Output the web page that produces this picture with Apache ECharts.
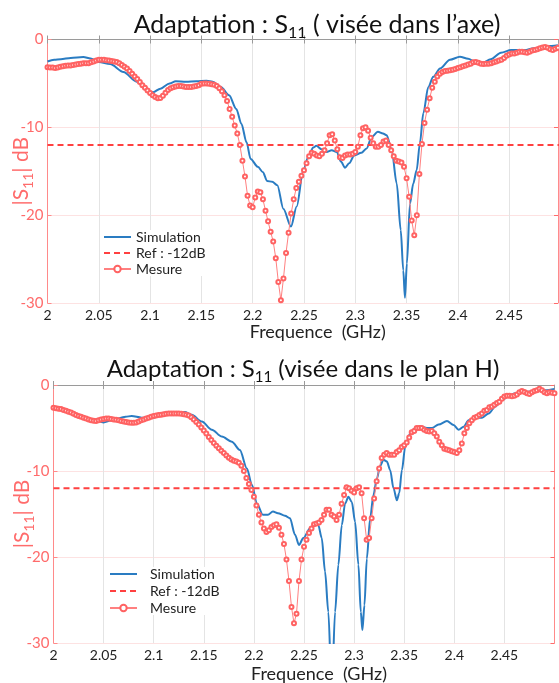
<!DOCTYPE html>
<html>
<head>
<meta charset="utf-8">
<script src="https://cdn.jsdelivr.net/npm/echarts@6/dist/echarts.min.js"></script>
<style>
  html, body { margin: 0; padding: 0; background: #fff; }
  #main { width: 559px; height: 683px; }
</style>
</head>
<body>
<div id="main"></div>
<script>
// measured curves are sampled every 2.5 MHz starting at 2 GHz
const freqStart = 2;
const freqStep = 0.0025;

// ---- top chart : visée dans l'axe ----
const measAxe = [
  -3.15, -3.2, -3.2, -3.25, -3.2, -3.1, -3.05, -3.0, -2.95, -2.95, -2.9, -2.85, -2.8, -2.75, -2.7, -2.7, -2.7, -2.6, -2.5, -2.4,
  -2.3, -2.3, -2.3, -2.35, -2.4, -2.45, -2.5, -2.55, -2.7, -2.9, -3.1, -3.3, -3.6, -3.9, -4.2, -4.5, -4.85, -5.2, -5.5, -5.8,
  -6.1, -6.35, -6.55, -6.7, -6.65, -6.4, -6.05, -5.75, -5.55, -5.45, -5.35, -5.3, -5.3, -5.35, -5.4, -5.4, -5.4, -5.35, -5.3, -5.2,
  -5.05, -5.0, -5.0, -5.05, -5.1, -5.15, -5.3, -5.55, -5.9, -6.35, -7.0, -7.9, -8.8, -9.8, -10.7, -12.0, -13.8, -15.6, -17.8, -18.9,
  -19.1, -18.0, -17.3, -17.4, -18.2, -19.5, -20.7, -21.9, -23.0, -24.9, -27.6, -29.7, -27.2, -24.3, -22.0, -19.8, -18.2, -16.9, -16.2, -15.5,
  -14.9, -14.1, -13.3, -12.9, -13.0, -13.2, -13.3, -13.0, -12.6, -11.8, -10.9, -10.8, -11.5, -12.5, -13.4, -13.5, -13.2, -13.1, -13.1, -13.0,
  -12.8, -12.2, -10.9, -10.1, -10.0, -10.4, -11.2, -11.8, -12.2, -12.2, -12.0, -11.6, -11.5, -12.0, -12.6, -13.3, -13.8, -13.9, -14.0, -14.5,
  -15.8, -17.9, -20.6, -22.3, -20.0, -15.3, -11.9, -9.5, -8.0, -6.7, -5.5, -4.8, -4.2, -3.9, -3.7, -3.6, -3.55, -3.5, -3.45, -3.35,
  -3.25, -3.15, -3.05, -2.95, -2.85, -2.75, -2.6, -2.55, -2.65, -2.75, -2.8, -2.75, -2.75, -2.7, -2.6, -2.5, -2.4, -2.3, -2.1, -1.85,
  -1.7, -1.6, -1.6, -1.5, -1.4, -1.4, -1.45, -1.5, -1.4, -1.25, -1.2, -1.1, -1.0, -0.9, -0.85, -0.95, -1.1, -1.2, -1.05, -0.95
];
const simAxe = [
  [2.0, -2.5], [2.0065, -2.3], [2.013, -2.25], [2.0226, -2.1], [2.035, -2.0], [2.042, -2.15], [2.05, -2.55],
  [2.061, -2.8], [2.074, -3.7], [2.087, -4.8], [2.097, -5.8], [2.103, -6.0], [2.11, -5.6], [2.119, -5.0],
  [2.125, -4.75], [2.135, -4.8], [2.145, -4.75], [2.155, -4.7], [2.161, -4.8], [2.169, -5.4], [2.177, -6.35],
  [2.184, -7.9], [2.189, -9.6], [2.194, -11.7], [2.198, -13.6], [2.205, -14.5], [2.21, -15.1], [2.214, -16.1],
  [2.219, -16.2], [2.224, -16.6], [2.23, -19.3], [2.2373, -21.3], [2.2429, -19.0], [2.2493, -14.9], [2.2545, -13.3],
  [2.259, -12.3], [2.262, -12.1], [2.267, -12.5], [2.272, -12.8], [2.277, -12.6], [2.282, -12.8], [2.286, -13.9],
  [2.29, -14.6], [2.294, -14.1], [2.299, -13.2], [2.306, -12.9], [2.311, -12.4], [2.316, -11.1], [2.322, -10.5],
  [2.327, -10.7], [2.3306, -10.9], [2.3355, -12.6], [2.3404, -16.4], [2.3443, -21.7], [2.3468, -26.3], [2.3484, -29.4],
  [2.3503, -25.5], [2.3533, -18.7], [2.3565, -16.4], [2.3598, -14.9], [2.363, -11.8], [2.3663, -8.4], [2.3712, -5.4],
  [2.376, -4.25], [2.3826, -3.3], [2.3923, -2.3], [2.402, -1.97], [2.41, -2.2], [2.417, -2.55], [2.424, -2.65],
  [2.432, -2.25], [2.442, -1.5], [2.452, -1.2], [2.465, -1.2], [2.474, -1.0], [2.487, -0.75], [2.4975, -0.65]
];

// ---- bottom chart : visée dans le plan H ----
const measPlanH = [
  -2.65, -2.7, -2.75, -2.8, -2.9, -3.0, -3.1, -3.2, -3.35, -3.5, -3.6, -3.7, -3.8, -3.9, -4.0, -4.1, -4.15, -4.2, -4.1, -4.0,
  -3.95, -3.9, -3.9, -3.95, -4.0, -4.05, -4.1, -4.2, -4.25, -4.3, -4.35, -4.4, -4.4, -4.35, -4.25, -4.1, -4.0, -3.9, -3.8, -3.7,
  -3.6, -3.55, -3.5, -3.45, -3.4, -3.35, -3.3, -3.3, -3.3, -3.3, -3.3, -3.35, -3.4, -3.45, -3.55, -3.75, -4.0, -4.3, -4.6, -4.95,
  -5.3, -5.65, -6.05, -6.4, -6.75, -7.05, -7.35, -7.65, -7.9, -8.2, -8.45, -8.65, -8.8, -8.9, -9.05, -9.4, -10.0, -10.8, -11.5, -12.2,
  -13.0, -14.0, -15.1, -16.0, -16.7, -17.1, -16.9, -16.5, -16.3, -16.2, -16.6, -17.4, -18.5, -20.3, -22.8, -25.8, -27.7, -26.6, -22.8, -20.3,
  -18.8, -18.0, -17.2, -16.7, -16.2, -16.1, -16.0, -15.7, -15.1, -14.5, -14.5, -15.1, -15.3, -15.7, -15.1, -13.8, -12.8, -11.9, -12.0, -12.3,
  -12.5, -12.0, -11.9, -12.6, -15.5, -18.0, -17.8, -15.5, -13.2, -11.2, -9.7, -8.5, -8.1, -7.9, -8.1, -8.1, -8.1, -7.8, -7.6, -7.2,
  -7.0, -6.7, -6.1, -5.5, -5.35, -5.0, -5.0, -5.0, -5.2, -5.35, -5.4, -5.35, -5.6, -6.0, -6.6, -7.0, -7.4, -7.5, -7.6, -7.7,
  -7.8, -7.9, -7.6, -6.8, -5.6, -5.0, -4.45, -4.1, -3.8, -3.7, -3.5, -3.3, -3.0, -2.9, -2.6, -2.5, -2.3, -2.1, -1.95, -1.6,
  -1.35, -1.25, -1.25, -1.3, -1.25, -1.1, -0.85, -0.7, -0.8, -0.95, -1.05, -0.85, -0.7, -0.6, -0.45, -0.6, -0.85, -0.95, -0.85, -0.9,
  -0.95
];
const simPlanH = [
  [2.0, -2.65], [2.012, -3.0], [2.025, -3.7], [2.039, -4.1], [2.05, -4.35], [2.058, -4.1], [2.072, -3.7],
  [2.078, -3.6], [2.088, -3.8], [2.1, -3.8], [2.111, -3.4], [2.125, -3.2], [2.131, -3.15], [2.138, -3.45],
  [2.148, -4.25], [2.158, -5.2], [2.168, -6.0], [2.178, -6.6], [2.186, -7.55], [2.193, -9.7], [2.198, -11.6],
  [2.203, -13.8], [2.209, -15.1], [2.214, -15.1], [2.219, -14.7], [2.224, -14.9], [2.231, -15.2], [2.236, -15.5],
  [2.241, -17.4], [2.245, -18.6], [2.2493, -17.8], [2.256, -16.7], [2.261, -16.1], [2.2643, -16.3], [2.2677, -17.8],
  [2.271, -21.7], [2.2743, -26.4], [2.2777, -36.0], [2.281, -26.4], [2.2843, -20.9], [2.2877, -16.3], [2.291, -13.8],
  [2.2943, -13.0], [2.2977, -13.6], [2.301, -15.9], [2.3043, -20.9], [2.3067, -26.4], [2.3083, -28.5], [2.3103, -25.6],
  [2.3127, -20.2], [2.316, -15.5], [2.3193, -12.8], [2.3227, -10.9], [2.326, -9.4], [2.3293, -8.7], [2.3327, -8.9],
  [2.336, -9.9], [2.3393, -12.0], [2.3427, -13.4], [2.345, -12.6], [2.3477, -9.9], [2.351, -7.2], [2.356, -5.6],
  [2.361, -5.0], [2.366, -4.8], [2.3727, -5.0], [2.3777, -5.0], [2.3843, -4.6], [2.3927, -4.2], [2.3993, -4.65],
  [2.4043, -5.2], [2.4093, -4.85], [2.4143, -4.1], [2.421, -3.8], [2.4277, -3.8], [2.4343, -3.3], [2.441, -2.5],
  [2.4477, -1.75], [2.4543, -1.25], [2.461, -0.95], [2.471, -0.8], [2.481, -0.7], [2.491, -0.6], [2.5, -0.45]
];

// reference level
const refLevel = [[2, -12], [2.5, -12]];
// legend entries: only "Mesure" keeps its marker in the key
const legendItems = [
  { name: "Simulation", itemStyle: { opacity: 0 } },
  { name: "Ref : -12dB", itemStyle: { opacity: 0 } },
  { name: "Mesure" },
];

const FONT = "Lato";
const BLUE = "#2a7cc2";
const RED = "#ff4040";
const PINK = "#ff6b6b";

function withFreq(values) {
  return values.map((v, i) => [+(freqStart + i * freqStep).toFixed(4), v]);
}

function xAxes(gridIndex, xMax, nameGap) {
  return [
    {
      gridIndex: gridIndex,
      type: "value",
      min: 2,
      max: xMax,
      interval: 0.05,
      position: "bottom",
      name: "Frequence  (GHz)",
      nameLocation: "middle",
      nameGap: nameGap,
      nameMoveOverlap: false,
      nameTextStyle: { fontFamily: FONT, fontSize: 18, color: "#222", padding: [0, 0, 0, 30] },
      axisLine: { lineStyle: { color: "#9a9a9a", width: 1 } },
      axisTick: { inside: true, length: 4, lineStyle: { color: "#9a9a9a" } },
      axisLabel: {
        margin: 5,
        fontFamily: FONT,
        fontSize: 14,
        color: "#222",
        showMaxLabel: false,
        formatter: (v) => String(+v.toFixed(2)),
      },
      splitLine: { show: true, lineStyle: { color: "#e4e4e4", width: 1 } },
    },
    {
      gridIndex: gridIndex,
      type: "value",
      min: 2,
      max: xMax,
      interval: 0.05,
      position: "top",
      axisLine: { lineStyle: { color: "#9a9a9a", width: 1 } },
      axisTick: { inside: true, length: 4, lineStyle: { color: "#9a9a9a" } },
      axisLabel: { show: false },
      splitLine: { show: false },
    },
  ];
}

function yAxes(gridIndex, nameGap) {
  return [
    {
      gridIndex: gridIndex,
      type: "value",
      min: -30,
      max: 0,
      interval: 10,
      position: "left",
      name: "|S{sub|11}| dB",
      nameLocation: "middle",
      nameRotate: 90,
      nameGap: nameGap,
      nameMoveOverlap: false,
      nameTextStyle: {
        fontFamily: FONT,
        fontSize: 21,
        lineHeight: 28,
        color: PINK,
        rich: { sub: { fontFamily: FONT, fontSize: 14, lineHeight: 14, color: PINK, verticalAlign: "bottom" } },
      },
      axisLine: { lineStyle: { color: "#ff8a8a", width: 1 } },
      axisTick: { inside: true, length: 4, lineStyle: { color: "#ff8a8a" } },
      axisLabel: { margin: 4, fontFamily: FONT, fontSize: 15, color: PINK },
      splitLine: { show: true, lineStyle: { color: "#fde2e2", width: 1 } },
    },
    {
      gridIndex: gridIndex,
      type: "value",
      min: -30,
      max: 0,
      interval: 10,
      position: "right",
      axisLine: { lineStyle: { color: "#ff8a8a", width: 1 } },
      axisTick: { inside: true, length: 4, lineStyle: { color: "#ff6b6b" } },
      axisLabel: { show: false },
      splitLine: { show: false },
    },
  ];
}

function seriesFor(xIdx, yIdx, sim, meas) {
  return [
    {
      name: "Simulation",
      type: "line",
      xAxisIndex: xIdx,
      yAxisIndex: yIdx,
      data: sim,
      symbol: "none",
      smooth: 0.3,
      smoothMonotone: "x",
      clip: true,
      lineStyle: { color: BLUE, width: 2 },
      itemStyle: { color: BLUE },
    },
    {
      name: "Ref : -12dB",
      type: "line",
      xAxisIndex: xIdx,
      yAxisIndex: yIdx,
      data: refLevel,
      symbol: "none",
      clip: true,
      lineStyle: { color: RED, width: 2, type: [6, 4] },
      itemStyle: { color: RED },
    },
    {
      name: "Mesure",
      type: "line",
      xAxisIndex: xIdx,
      yAxisIndex: yIdx,
      data: withFreq(meas),
      symbol: "emptyCircle",
      symbolSize: 4,
      clip: true,
      lineStyle: { color: "#ff8080", width: 1 },
      itemStyle: { color: "#ff6262", borderWidth: 1 },
    },
  ];
}

function titleStyle(size) {
  return {
    fontFamily: FONT,
    fontSize: size,
    lineHeight: size + 7,
    fontWeight: "normal",
    color: "#111",
    rich: { sub: { fontFamily: FONT, fontSize: Math.round(size * 0.62), lineHeight: 14, color: "#111", verticalAlign: "bottom" } },
  };
}

function legendAt(left, top, gap, textPad) {
  return {
    data: legendItems,
    orient: "vertical",
    left: left,
    top: top,
    itemWidth: 27,
    itemHeight: 8,
    itemGap: gap,
    backgroundColor: "#fff",
    padding: 0,
    textStyle: { fontFamily: FONT, fontSize: 14, lineHeight: 13, color: "#222", padding: [0, 0, 0, textPad] },
  };
}

const myChart = echarts.init(document.getElementById("main"));
const option = {
  backgroundColor: "#fff",
  animation: false,
  title: [
    {
      text: "Adaptation : S{sub|11} ( visée dans l’axe)",
      left: 312,
      top: 4,
      textAlign: "center",
      textStyle: titleStyle(25),
    },
    {
      text: "Adaptation : S{sub|11} (visée dans le plan H)",
      left: 298,
      top: 349,
      textAlign: "center",
      textStyle: titleStyle(24),
    },
  ],
  legend: [legendAt(103, 230, 2, 0), legendAt(109, 567, 3, 8)],
  grid: [
    { left: 47.5, right: 1, top: 39.5, height: 263.5, outerBoundsMode: "none", containLabel: false },
    { left: 53.5, right: 4.5, top: 385, height: 258, outerBoundsMode: "none", containLabel: false },
  ],
  xAxis: [...xAxes(0, 2.4976, 20), ...xAxes(1, 2.5, 22)],
  yAxis: [...yAxes(0, 12), ...yAxes(1, 17)],
  series: [...seriesFor(0, 0, simAxe, measAxe), ...seriesFor(2, 2, simPlanH, measPlanH)],
};
myChart.setOption(option);
</script>
</body>
</html>
